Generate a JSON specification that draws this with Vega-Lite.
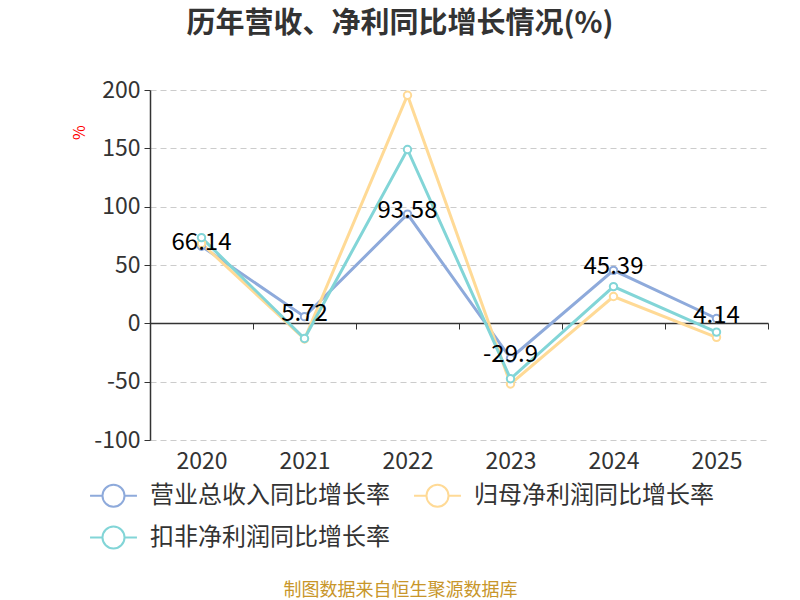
{
  "$schema": "https://vega.github.io/schema/vega-lite/v6.json",
  "description": "历年营收、净利同比增长情况",
  "autosize": {"type": "none"},
  "width": 618,
  "height": 350,
  "padding": {"left": 150, "top": 90, "right": 32, "bottom": 160},
  "background": "white",
  "config": {
    "font": "Noto Sans CJK SC",
    "view": {"stroke": null}
  },
  "title": {
    "text": "历年营收、净利同比增长情况(%)",
    "fontSize": 29,
    "fontWeight": "bold",
    "color": "#333333",
    "anchor": "middle",
    "frame": "group",
    "dx": -59,
    "offset": 40
  },
  "data": {
    "values": [
      {"year": "2020", "series": "营业总收入同比增长率", "value": 66.14},
      {"year": "2021", "series": "营业总收入同比增长率", "value": 5.72},
      {"year": "2022", "series": "营业总收入同比增长率", "value": 93.58},
      {"year": "2023", "series": "营业总收入同比增长率", "value": -29.9},
      {"year": "2024", "series": "营业总收入同比增长率", "value": 45.39},
      {"year": "2025", "series": "营业总收入同比增长率", "value": 4.14},
      {"year": "2020", "series": "归母净利润同比增长率", "value": 68.5},
      {"year": "2021", "series": "归母净利润同比增长率", "value": -13.4},
      {"year": "2022", "series": "归母净利润同比增长率", "value": 195.5},
      {"year": "2023", "series": "归母净利润同比增长率", "value": -52},
      {"year": "2024", "series": "归母净利润同比增长率", "value": 23},
      {"year": "2025", "series": "归母净利润同比增长率", "value": -12},
      {"year": "2020", "series": "扣非净利润同比增长率", "value": 73.5},
      {"year": "2021", "series": "扣非净利润同比增长率", "value": -13},
      {"year": "2022", "series": "扣非净利润同比增长率", "value": 149},
      {"year": "2023", "series": "扣非净利润同比增长率", "value": -47.5},
      {"year": "2024", "series": "扣非净利润同比增长率", "value": 31.5},
      {"year": "2025", "series": "扣非净利润同比增长率", "value": -7.5}
    ]
  },
  "encoding": {
    "x": {
      "field": "year",
      "type": "ordinal",
      "scale": {"type": "band", "paddingInner": 0, "paddingOuter": 0},
      "axis": {
        "title": "制图数据来自恒生聚源数据库",
        "titleColor": "#c8962a",
        "titleFontSize": 18,
        "titleFontWeight": "normal",
        "titleX": 250,
        "titleY": 267,
        "titleAnchor": "middle",
        "titleAlign": "center",
        "titleBaseline": "middle",
        "offset": -117,
        "labelAngle": 0,
        "labelFontSize": 23,
        "labelColor": "#333333",
        "labelPadding": 121,
        "tickBand": "extent",
        "tickSize": 6,
        "tickColor": "#333333",
        "domainColor": "#333333",
        "domainWidth": 1.5,
        "grid": false
      }
    },
    "y": {
      "field": "value",
      "type": "quantitative",
      "scale": {"domain": [-100, 200], "nice": false, "zero": false},
      "axis": {
        "values": [-100, -50, 0, 50, 100, 150, 200],
        "labelExpr": "replace(datum.label, '−', '-')",
        "title": "%",
        "titleColor": "#ff0000",
        "titleFontSize": 16,
        "titleFontWeight": "normal",
        "titleAngle": -90,
        "titleX": -63,
        "titleY": 42,
        "titleAlign": "center",
        "labelFontSize": 23,
        "labelColor": "#333333",
        "labelPadding": 4,
        "tickSize": 6,
        "tickColor": "#333333",
        "domainColor": "#333333",
        "domainWidth": 1.5,
        "grid": true,
        "gridColor": "#cccccc",
        "gridDash": [6, 4],
        "gridWidth": 1.2
      }
    }
  },
  "layer": [
    {
      "mark": {"type": "line", "strokeWidth": 3},
      "encoding": {
        "color": {
          "field": "series",
          "type": "nominal",
          "scale": {
            "domain": ["营业总收入同比增长率", "归母净利润同比增长率", "扣非净利润同比增长率"],
            "range": ["#8eaadb", "#ffda96", "#82d5d7"]
          },
          "legend": {
            "title": null,
            "orient": "none",
            "legendX": -61,
            "legendY": 381,
            "direction": "horizontal",
            "columns": 2,
            "columnPadding": 20,
            "rowPadding": 2,
            "labelFontSize": 24,
            "labelColor": "#333333",
            "labelOffset": 12,
            "labelLimit": 400,
            "symbolType": "M-1,0H-0.47M0.47,0H1M0.47,0A0.47,0.47,0,1,1,-0.47,0A0.47,0.47,0,1,1,0.47,0Z",
            "symbolSize": 2200,
            "symbolStrokeWidth": 2,
            "symbolFillColor": "white",
            "symbolOpacity": 1
          }
        }
      }
    },
    {
      "mark": {"type": "point", "filled": false, "fill": "white", "fillOpacity": 1, "size": 55, "strokeWidth": 2, "opacity": 1},
      "encoding": {
        "stroke": {
          "field": "series",
          "type": "nominal",
          "scale": {
            "domain": ["营业总收入同比增长率", "归母净利润同比增长率", "扣非净利润同比增长率"],
            "range": ["#8eaadb", "#ffda96", "#82d5d7"]
          },
          "legend": null
        }
      }
    },
    {
      "transform": [{"filter": "datum.series === '营业总收入同比增长率'"}],
      "mark": {"type": "text", "fontSize": 24, "baseline": "middle", "dy": -3},
      "encoding": {
        "text": {"field": "value", "type": "nominal"},
        "color": {"value": "#000000"}
      }
    }
  ]
}
